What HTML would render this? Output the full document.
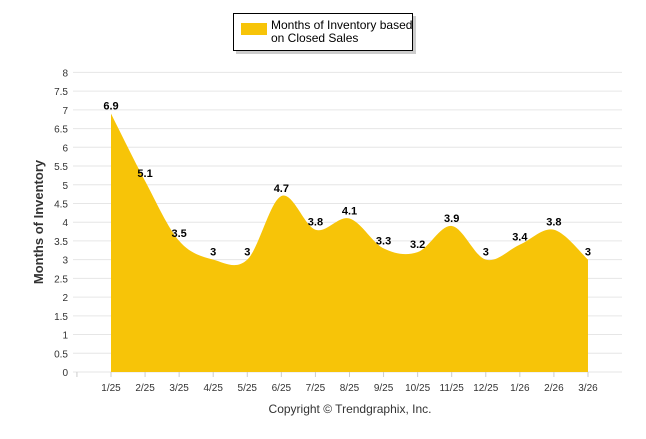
<!DOCTYPE html>
<html><head><meta charset="utf-8"><style>
body{margin:0;background:#fff;font-family:"Liberation Sans",Arial,sans-serif}
</style></head><body>
<svg id="c" width="646" height="434" xmlns="http://www.w3.org/2000/svg">
<rect x="236" y="16" width="180" height="38" fill="#999" opacity="0.5"/>
<rect x="233.5" y="13.5" width="179" height="37" fill="#fff" stroke="#000"/>
<rect x="241" y="23" width="26" height="12" fill="#F7C408"/>
<text x="271" y="29" font-size="12" fill="#000">Months of Inventory based</text>
<text x="271" y="42" font-size="12" fill="#000">on Closed Sales</text>
<g id="grid"></g><g id="area"></g><g id="labels"></g>
<text transform="translate(43,222) rotate(-90)" text-anchor="middle" font-size="13" font-weight="bold" fill="#333">Months of Inventory</text>
<text x="350" y="413" text-anchor="middle" font-size="12" fill="#333">Copyright © Trendgraphix, Inc.</text>
</svg>
<script>
const categories=["1/25","2/25","3/25","4/25","5/25","6/25","7/25","8/25","9/25","10/25","11/25","12/25","1/26","2/26","3/26"];
const values=[6.9,5.1,3.5,3,3,4.7,3.8,4.1,3.3,3.2,3.9,3,3.4,3.8,3];
const yTicks=[0,0.5,1,1.5,2,2.5,3,3.5,4,4.5,5,5.5,6,6.5,7,7.5,8];
const NS="http://www.w3.org/2000/svg";
const X0=111,DX=34.07,Y0=372,YS=37.45,L=73,R=622;
const xs=i=>X0+i*DX, ys=v=>Y0-v*YS;
function mk(t,a,p){const e=document.createElementNS(NS,t);for(const k in a)e.setAttribute(k,a[k]);p.appendChild(e);return e;}
const g=document.getElementById('grid');
yTicks.forEach(v=>{
 const l=mk('line',{x1:L,x2:R,y1:ys(v),y2:ys(v),stroke:'#e6e6e6','stroke-width':1},g);
 
 
 const t=mk('text',{x:68,y:ys(v)+4,'text-anchor':'end','font-size':10,fill:'#333'},g);
 t.textContent=v;
 
 
});
for(let k=-1;k<categories.length;k++){
 const tx=xs(k);
 const m=mk('line',{x1:tx,x2:tx,y1:Y0,y2:Y0+5,stroke:'#ccc'},g);
 
 
}
categories.forEach((c,i)=>{
 const t=mk('text',{x:xs(i),y:Y0+19,'text-anchor':'middle','font-size':10,fill:'#333'},g);
 t.textContent=c;
 
 
});
const pts=values.map((v,i)=>[xs(i),ys(v)]);
let d=`M${pts[0][0]},${pts[0][1]}`;
const n=pts.length;
for(let i=0;i<n-1;i++){
 const p0=pts[Math.max(i-1,0)],p1=pts[i],p2=pts[i+1],p3=pts[Math.min(i+2,n-1)];
 const c1=[p1[0]+(p2[0]-p0[0])/6,p1[1]+(p2[1]-p0[1])/6];
 const c2=[p2[0]-(p3[0]-p1[0])/6,p2[1]-(p3[1]-p1[1])/6];
 d+=` C${c1[0]},${c1[1]} ${c2[0]},${c2[1]} ${p2[0]},${p2[1]}`;
}
d+=` L${pts[n-1][0]},${Y0} L${pts[0][0]},${Y0} Z`;
const ar=mk('path',{d:d,fill:'#F7C408'},document.getElementById('area'));


const lg=document.getElementById('labels');
values.forEach((v,i)=>{
 const t=mk('text',{x:xs(i),y:ys(v)-4,'text-anchor':'middle','font-size':11,'font-weight':'bold',fill:'#000'},lg);
 t.textContent=v;
 
 
});
</script>
</body></html>
